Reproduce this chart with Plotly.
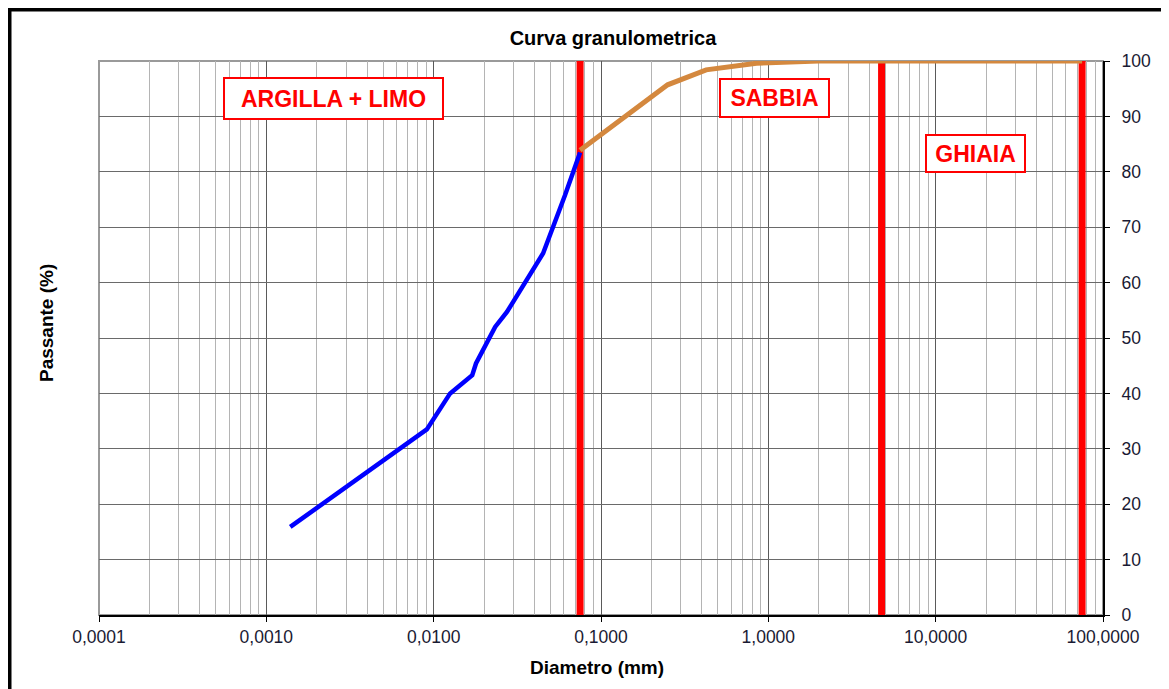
import plotly.graph_objects as go
import math

# --- Data ---
# Fine fraction (sedimentation) - blue curve
fine_diam = [0.00139, 0.00235, 0.00276, 0.00339, 0.0091, 0.01254, 0.0170, 0.0179,
             0.0192, 0.0212, 0.0233, 0.0274, 0.0451, 0.061, 0.075]
fine_pass = [15.9, 20.8, 22.4, 24.1, 33.5, 40.0, 43.3, 45.4,
             47.2, 49.9, 52.0, 54.7, 65.3, 75.8, 83.5]

# Sieve fraction - orange curve
sieve_diam = [0.075, 0.25, 0.425, 0.85, 2.0, 4.75, 9.5, 19.0, 37.5, 75.0]
sieve_pass = [83.9, 95.7, 98.4, 99.6, 100, 100, 100, 100, 100, 100]

# Class boundaries (red lines)
boundaries = [0.075, 4.75, 75.0]

# Axis ticks
x_tickvals = [0.0001, 0.001, 0.01, 0.1, 1, 10, 100]
x_ticktext = ["0,0001", "0,0010", "0,0100", "0,1000", "1,0000", "10,0000", "100,0000"]
y_tickvals = list(range(0, 101, 10))

# Region labels
labels = ["ARGILLA + LIMO", "SABBIA", "GHIAIA"]
label_x = [0.00251, 1.084, 17.3]
label_y = [93.2, 93.3, 83.3]
label_w = [209, 99, 89]
label_h = [31, 28, 27]

FONT = "Liberation Sans, Arial, sans-serif"
TXT = "#1a1a33"

minor_vals = [m * 10 ** e for e in range(-4, 2) for m in range(2, 10)]

fig = go.Figure()

for b in boundaries:
    fig.add_trace(go.Scatter(x=[b, b], y=[0, 100], mode="lines",
                             line=dict(color="#FF0000", width=7), hoverinfo="skip",
                             showlegend=False))

fig.add_trace(go.Scatter(x=fine_diam, y=fine_pass, mode="lines",
                         line=dict(color="#0000FF", width=4.5), showlegend=False))
fig.add_trace(go.Scatter(x=sieve_diam, y=sieve_pass, mode="lines",
                         line=dict(color="#D4883E", width=5), showlegend=False))

# page offset of 8px (body margin) accounted for
OFF = 8
W, H = 1169 - OFF, 689 - OFF
L, R, T, B = 99, 1103, 61, 615   # plot area in page pixels

fig.update_layout(
    width=W, height=H,
    margin=dict(l=L - OFF, r=W - (R - OFF), t=T - OFF, b=H - (B - OFF)),
    paper_bgcolor="white", plot_bgcolor="white",
    font=dict(family=FONT, size=17.5, color=TXT),
    showlegend=False,
    title=dict(text="<b>Curva granulometrica</b>", x=(613 - OFF) / W, xref="container",
               xanchor="center", y=1 - (38 - OFF) / H, yref="container", yanchor="middle",
               font=dict(size=20, color="black")),
)

fig.update_xaxes(
    type="log", range=[-4, 2],
    tickvals=x_tickvals, ticktext=x_ticktext,
    ticks="outside", ticklen=5, tickcolor="black", tickwidth=1,
    showline=True, linecolor="black", linewidth=2,
    showgrid=True, gridcolor="#5a5a5a", gridwidth=1,
    minor=dict(tickvals=minor_vals, showgrid=True, gridcolor="#b4b4b4", gridwidth=1, ticks=""),
    tickfont=dict(size=17.5, color=TXT),
    zeroline=False,
)
fig.update_yaxes(
    range=[0, 100], side="right",
    tickvals=y_tickvals,
    ticks="outside", ticklen=5, tickcolor="black",
    showline=True, linecolor="black", linewidth=2,
    showgrid=True, gridcolor="#6a6a6a", gridwidth=1,
    tickfont=dict(size=17.5, color=TXT),
    ticklabelstandoff=8,
    zeroline=False,
)

# plot border (gray top/left)
fig.add_shape(type="rect", xref="paper", yref="paper", x0=0, y0=0, x1=1, y1=1,
              line=dict(color="#9a9a9a", width=2), layer="below")

# outer black frame
fig.add_shape(type="rect", xref="paper", yref="paper",
              x0=(9.5 - L) / (R - L), x1=(1190 - L) / (R - L),
              y0=(B - 710) / (B - T), y1=(B - 9.5) / (B - T),
              line=dict(color="black", width=4))

for t, x, y, w, h in zip(labels, label_x, label_y, label_w, label_h):
    fig.add_annotation(x=math.log10(x), y=y, xref="x", yref="y", text="<b>" + t + "</b>",
                       showarrow=False, font=dict(size=23, color="#FF0000"),
                       bgcolor="white", bordercolor="#FF0000", borderwidth=2,
                       borderpad=4, width=w, height=h, align="center", valign="middle")

fig.add_annotation(x=(597 - L) / (R - L), y=(B - 667) / (B - T), xref="paper", yref="paper",
                   text="<b>Diametro (mm)</b>", showarrow=False,
                   font=dict(size=19, color="black"), xanchor="center", yanchor="middle")
fig.add_annotation(x=(47 - L) / (R - L), y=(B - 323) / (B - T), xref="paper", yref="paper",
                   text="<b>Passante (%)</b>", showarrow=False, textangle=-90,
                   font=dict(size=19, color="black"), xanchor="center", yanchor="middle")

fig.write_html("out.html")
